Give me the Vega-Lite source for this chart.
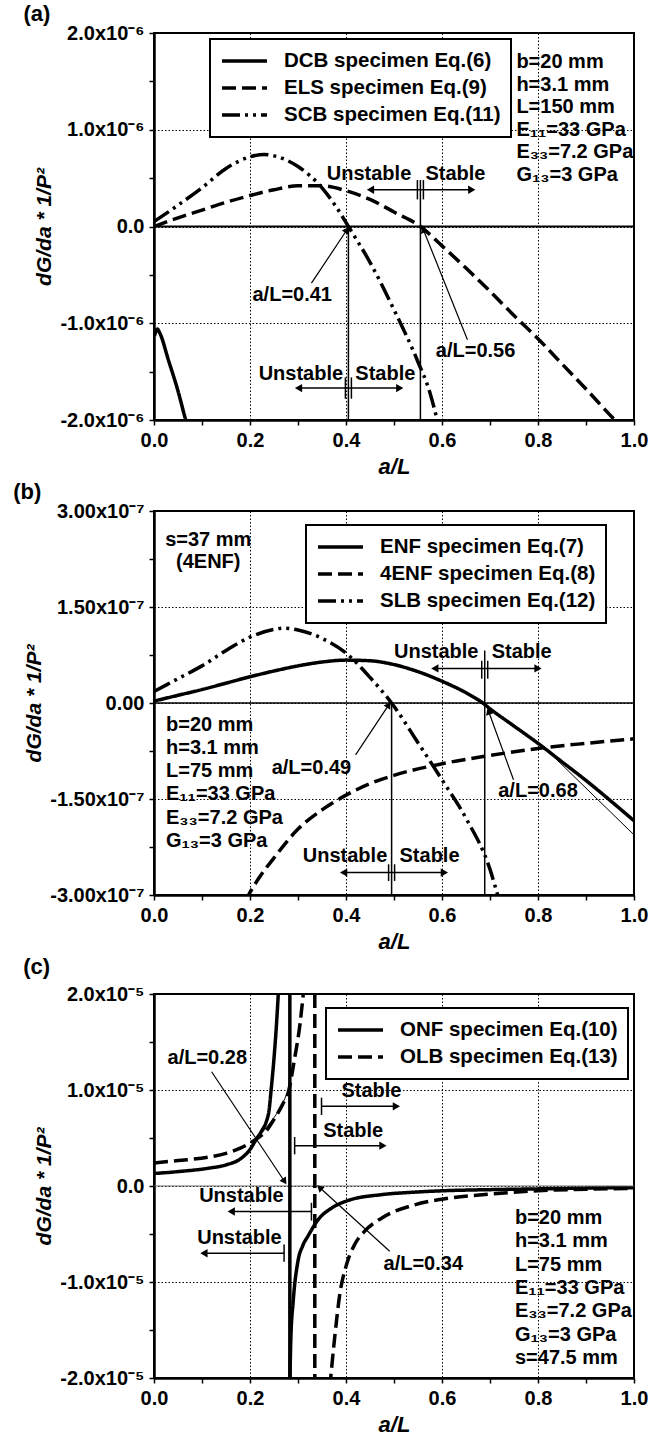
{
  "$schema": "https://vega.github.io/schema/vega-lite/v6.json",
  "background": "white",
  "padding": {"left": 12, "top": 2, "right": 0, "bottom": 0},
  "spacing": 2,
  "config": {
    "font": "Liberation Sans",
    "view": {"stroke": "black", "strokeWidth": 2},
    "axis": {"labelFont": "Liberation Sans", "labelFontSize": 20, "labelFontWeight": "bold", "labelColor": "black", "titleFont": "Liberation Sans", "titleFontSize": 21, "titleFontWeight": "bold", "titleColor": "black", "domainColor": "black", "domainWidth": 2.5, "tickColor": "black", "tickWidth": 1.5, "tickSize": 5, "gridColor": "black", "gridDash": [1.5, 2], "gridWidth": 1, "labelPadding": 5, "labelOverlap": false, "labelFlush": false},
    "axisX": {"titlePadding": 6},
    "axisY": {"titlePadding": 5.5},
    "legend": {"symbolType": "stroke", "symbolStrokeWidth": 3.5, "symbolStrokeColor": "black", "symbolSize": 2025, "clipHeight": 24, "labelFont": "Liberation Sans", "labelFontSize": 20.5, "labelFontWeight": "bold", "labelColor": "black", "labelOffset": 15, "labelLimit": 400, "rowPadding": 3, "padding": 10, "strokeColor": "black", "strokeWidth": 2, "fillColor": "white"},
    "title": {"anchor": "start", "frame": "bounds", "font": "Liberation Sans", "fontSize": 22, "fontWeight": "bold", "color": "black", "offset": 2, "dx": -10}
  },
  "resolve": {"scale": {"strokeDash": "independent", "shape": "independent"}, "legend": {"strokeDash": "independent"}},
  "datasets": {
    "a_curves": [
      {"series": "DCB specimen Eq.(6)", "x": 0.001, "y": -1.13e-6},
      {"series": "DCB specimen Eq.(6)", "x": 0.007, "y": -1.06e-6},
      {"series": "DCB specimen Eq.(6)", "x": 0.012, "y": -1.10e-6},
      {"series": "DCB specimen Eq.(6)", "x": 0.03, "y": -1.38e-6},
      {"series": "DCB specimen Eq.(6)", "x": 0.05, "y": -1.70e-6},
      {"series": "DCB specimen Eq.(6)", "x": 0.066, "y": -2.0e-6},
      {"series": "DCB specimen Eq.(6)", "x": 0.07, "y": -2.07e-6},
      {"series": "ELS specimen Eq.(9)", "x": 0, "y": 0},
      {"series": "ELS specimen Eq.(9)", "x": 0.05, "y": 9e-8},
      {"series": "ELS specimen Eq.(9)", "x": 0.1, "y": 1.7e-7},
      {"series": "ELS specimen Eq.(9)", "x": 0.15, "y": 2.5e-7},
      {"series": "ELS specimen Eq.(9)", "x": 0.2, "y": 3.2e-7},
      {"series": "ELS specimen Eq.(9)", "x": 0.25, "y": 3.8e-7},
      {"series": "ELS specimen Eq.(9)", "x": 0.3, "y": 4.2e-7},
      {"series": "ELS specimen Eq.(9)", "x": 0.35, "y": 4.2e-7},
      {"series": "ELS specimen Eq.(9)", "x": 0.4, "y": 3.7e-7},
      {"series": "ELS specimen Eq.(9)", "x": 0.45, "y": 2.8e-7},
      {"series": "ELS specimen Eq.(9)", "x": 0.5, "y": 1.5e-7},
      {"series": "ELS specimen Eq.(9)", "x": 0.555, "y": 0},
      {"series": "ELS specimen Eq.(9)", "x": 0.6, "y": -2.0e-7},
      {"series": "ELS specimen Eq.(9)", "x": 0.65, "y": -4.3e-7},
      {"series": "ELS specimen Eq.(9)", "x": 0.7, "y": -6.7e-7},
      {"series": "ELS specimen Eq.(9)", "x": 0.75, "y": -9.2e-7},
      {"series": "ELS specimen Eq.(9)", "x": 0.8, "y": -1.16e-6},
      {"series": "ELS specimen Eq.(9)", "x": 0.85, "y": -1.42e-6},
      {"series": "ELS specimen Eq.(9)", "x": 0.9, "y": -1.68e-6},
      {"series": "ELS specimen Eq.(9)", "x": 0.96, "y": -2.0e-6},
      {"series": "ELS specimen Eq.(9)", "x": 0.97, "y": -2.05e-6},
      {"series": "SCB specimen Eq.(11)", "x": 0, "y": 5e-8},
      {"series": "SCB specimen Eq.(11)", "x": 0.05, "y": 2.2e-7},
      {"series": "SCB specimen Eq.(11)", "x": 0.1, "y": 4.0e-7},
      {"series": "SCB specimen Eq.(11)", "x": 0.15, "y": 6.0e-7},
      {"series": "SCB specimen Eq.(11)", "x": 0.2, "y": 7.2e-7},
      {"series": "SCB specimen Eq.(11)", "x": 0.23, "y": 7.45e-7},
      {"series": "SCB specimen Eq.(11)", "x": 0.25, "y": 7.3e-7},
      {"series": "SCB specimen Eq.(11)", "x": 0.3, "y": 6.2e-7},
      {"series": "SCB specimen Eq.(11)", "x": 0.35, "y": 4.0e-7},
      {"series": "SCB specimen Eq.(11)", "x": 0.38, "y": 2.0e-7},
      {"series": "SCB specimen Eq.(11)", "x": 0.405, "y": 0},
      {"series": "SCB specimen Eq.(11)", "x": 0.45, "y": -3.7e-7},
      {"series": "SCB specimen Eq.(11)", "x": 0.5, "y": -8.6e-7},
      {"series": "SCB specimen Eq.(11)", "x": 0.55, "y": -1.40e-6},
      {"series": "SCB specimen Eq.(11)", "x": 0.575, "y": -1.72e-6},
      {"series": "SCB specimen Eq.(11)", "x": 0.59, "y": -2.0e-6},
      {"series": "SCB specimen Eq.(11)", "x": 0.595, "y": -2.1e-6}
    ],
    "a_marks": [
      {"kind": "zero", "x": 0, "x2": 1, "y": 0},
      {"kind": "vline", "x": 0.405, "y": 0, "y2": -2e-6},
      {"kind": "vline", "x": 0.555, "y": 4.8e-7, "y2": -2e-6},
      {"kind": "junction", "x": 0.555, "y": 2.8e-7, "y2": 4.8e-7},
      {"kind": "junction", "x": 0.405, "y": -1.56e-6, "y2": -1.78e-6},
      {"kind": "stability", "side": "Unstable", "x": 0.555, "x2": 0.451, "y": 3.8e-7},
      {"kind": "stability", "side": "Stable", "x": 0.555, "x2": 0.662, "y": 3.8e-7},
      {"kind": "stability", "side": "Unstable", "x": 0.405, "x2": 0.301, "y": -1.67e-6},
      {"kind": "stability", "side": "Stable", "x": 0.405, "x2": 0.512, "y": -1.67e-6},
      {"kind": "pointer", "label": "a/L=0.41", "x": 0.328, "y": -5.86e-7, "x2": 0.402, "y2": -3.4e-8},
      {"kind": "pointer", "label": "a/L=0.56", "x": 0.653, "y": -1.17e-6, "x2": 0.561, "y2": -3e-8}
    ],
    "a_text": [
      {"kind": "label", "x": 0.448, "y": 5.4e-7, "text": "Unstable"},
      {"kind": "label", "x": 0.628, "y": 5.4e-7, "text": "Stable"},
      {"kind": "label", "x": 0.306, "y": -1.52e-6, "text": "Unstable"},
      {"kind": "label", "x": 0.482, "y": -1.52e-6, "text": "Stable"},
      {"kind": "label", "x": 0.288, "y": -7.1e-7, "text": "a/L=0.41"},
      {"kind": "label", "x": 0.670, "y": -1.29e-6, "text": "a/L=0.56"},
      {"kind": "params", "x": 0.755, "y": 1.8e-6, "text": "b=20 mm\nh=3.1 mm\nL=150 mm\nE₁₁=33 GPa\nE₃₃=7.2 GPa\nG₁₃=3 GPa"}
    ],
    "b_curves": [
      {"series": "ENF specimen Eq.(7)", "x": 0, "y": 3e-9},
      {"series": "ENF specimen Eq.(7)", "x": 0.05, "y": 1.2e-8},
      {"series": "ENF specimen Eq.(7)", "x": 0.1, "y": 2.1e-8},
      {"series": "ENF specimen Eq.(7)", "x": 0.15, "y": 3.1e-8},
      {"series": "ENF specimen Eq.(7)", "x": 0.2, "y": 4.1e-8},
      {"series": "ENF specimen Eq.(7)", "x": 0.25, "y": 5.0e-8},
      {"series": "ENF specimen Eq.(7)", "x": 0.3, "y": 5.8e-8},
      {"series": "ENF specimen Eq.(7)", "x": 0.35, "y": 6.4e-8},
      {"series": "ENF specimen Eq.(7)", "x": 0.4, "y": 6.7e-8},
      {"series": "ENF specimen Eq.(7)", "x": 0.45, "y": 6.6e-8},
      {"series": "ENF specimen Eq.(7)", "x": 0.5, "y": 6.0e-8},
      {"series": "ENF specimen Eq.(7)", "x": 0.55, "y": 4.9e-8},
      {"series": "ENF specimen Eq.(7)", "x": 0.6, "y": 3.4e-8},
      {"series": "ENF specimen Eq.(7)", "x": 0.65, "y": 1.6e-8},
      {"series": "ENF specimen Eq.(7)", "x": 0.685, "y": 0},
      {"series": "ENF specimen Eq.(7)", "x": 0.7, "y": -9e-9},
      {"series": "ENF specimen Eq.(7)", "x": 0.75, "y": -3.6e-8},
      {"series": "ENF specimen Eq.(7)", "x": 0.8, "y": -6.3e-8},
      {"series": "ENF specimen Eq.(7)", "x": 0.85, "y": -9.2e-8},
      {"series": "ENF specimen Eq.(7)", "x": 0.9, "y": -1.21e-7},
      {"series": "ENF specimen Eq.(7)", "x": 0.95, "y": -1.52e-7},
      {"series": "ENF specimen Eq.(7)", "x": 1.0, "y": -1.84e-7},
      {"series": "4ENF specimen Eq.(8)", "x": 0.19, "y": -3.1e-7},
      {"series": "4ENF specimen Eq.(8)", "x": 0.197, "y": -3.0e-7},
      {"series": "4ENF specimen Eq.(8)", "x": 0.22, "y": -2.72e-7},
      {"series": "4ENF specimen Eq.(8)", "x": 0.25, "y": -2.42e-7},
      {"series": "4ENF specimen Eq.(8)", "x": 0.3, "y": -1.97e-7},
      {"series": "4ENF specimen Eq.(8)", "x": 0.35, "y": -1.67e-7},
      {"series": "4ENF specimen Eq.(8)", "x": 0.4, "y": -1.44e-7},
      {"series": "4ENF specimen Eq.(8)", "x": 0.45, "y": -1.26e-7},
      {"series": "4ENF specimen Eq.(8)", "x": 0.5, "y": -1.13e-7},
      {"series": "4ENF specimen Eq.(8)", "x": 0.6, "y": -9.5e-8},
      {"series": "4ENF specimen Eq.(8)", "x": 0.7, "y": -8.2e-8},
      {"series": "4ENF specimen Eq.(8)", "x": 0.8, "y": -7.1e-8},
      {"series": "4ENF specimen Eq.(8)", "x": 0.9, "y": -6.3e-8},
      {"series": "4ENF specimen Eq.(8)", "x": 1.0, "y": -5.6e-8},
      {"series": "SLB specimen Eq.(12)", "x": 0, "y": 1.8e-8},
      {"series": "SLB specimen Eq.(12)", "x": 0.05, "y": 3.8e-8},
      {"series": "SLB specimen Eq.(12)", "x": 0.1, "y": 5.8e-8},
      {"series": "SLB specimen Eq.(12)", "x": 0.15, "y": 8.2e-8},
      {"series": "SLB specimen Eq.(12)", "x": 0.2, "y": 1.03e-7},
      {"series": "SLB specimen Eq.(12)", "x": 0.25, "y": 1.15e-7},
      {"series": "SLB specimen Eq.(12)", "x": 0.27, "y": 1.17e-7},
      {"series": "SLB specimen Eq.(12)", "x": 0.3, "y": 1.14e-7},
      {"series": "SLB specimen Eq.(12)", "x": 0.35, "y": 1.01e-7},
      {"series": "SLB specimen Eq.(12)", "x": 0.4, "y": 7.8e-8},
      {"series": "SLB specimen Eq.(12)", "x": 0.45, "y": 4.0e-8},
      {"series": "SLB specimen Eq.(12)", "x": 0.495, "y": 0},
      {"series": "SLB specimen Eq.(12)", "x": 0.55, "y": -6.2e-8},
      {"series": "SLB specimen Eq.(12)", "x": 0.6, "y": -1.20e-7},
      {"series": "SLB specimen Eq.(12)", "x": 0.65, "y": -1.80e-7},
      {"series": "SLB specimen Eq.(12)", "x": 0.7, "y": -2.6e-7},
      {"series": "SLB specimen Eq.(12)", "x": 0.716, "y": -3.0e-7},
      {"series": "SLB specimen Eq.(12)", "x": 0.72, "y": -3.1e-7}
    ],
    "b_thin": [
      {"x": 0.82, "y": -7.46e-8},
      {"x": 1.0, "y": -2.06e-7}
    ],
    "b_marks": [
      {"kind": "zero", "x": 0, "x2": 1, "y": 0},
      {"kind": "vline", "x": 0.495, "y": 0, "y2": -3e-7},
      {"kind": "vline", "x": 0.689, "y": 8.2e-8, "y2": -3e-7},
      {"kind": "junction", "x": 0.689, "y": 3.8e-8, "y2": 6.6e-8},
      {"kind": "junction", "x": 0.495, "y": -2.52e-7, "y2": -2.78e-7},
      {"kind": "stability", "side": "Unstable", "x": 0.689, "x2": 0.585, "y": 5.4e-8},
      {"kind": "stability", "side": "Stable", "x": 0.689, "x2": 0.80, "y": 5.4e-8},
      {"kind": "stability", "side": "Unstable", "x": 0.495, "x2": 0.395, "y": -2.65e-7},
      {"kind": "stability", "side": "Stable", "x": 0.495, "x2": 0.605, "y": -2.65e-7},
      {"kind": "pointer", "label": "a/L=0.49", "x": 0.420, "y": -8.1e-8, "x2": 0.489, "y2": -3e-9},
      {"kind": "pointer", "label": "a/L=0.68", "x": 0.749, "y": -1.20e-7, "x2": 0.697, "y2": -1.3e-8}
    ],
    "b_text": [
      {"kind": "label", "x": 0.588, "y": 8.0e-8, "text": "Unstable"},
      {"kind": "label", "x": 0.766, "y": 8.0e-8, "text": "Stable"},
      {"kind": "label", "x": 0.398, "y": -2.39e-7, "text": "Unstable"},
      {"kind": "label", "x": 0.574, "y": -2.39e-7, "text": "Stable"},
      {"kind": "label", "x": 0.328, "y": -1.01e-7, "text": "a/L=0.49"},
      {"kind": "label", "x": 0.80, "y": -1.37e-7, "text": "a/L=0.68"},
      {"kind": "note", "x": 0.113, "y": 2.71e-7, "text": "s=37 mm\n(4ENF)"},
      {"kind": "params", "x": 0.025, "y": -1.8e-8, "text": "b=20 mm\nh=3.1 mm\nL=75 mm\nE₁₁=33 GPa\nE₃₃=7.2 GPa\nG₁₃=3 GPa"}
    ],
    "c_curves": [
      {"series": "ONF specimen Eq.(10)", "branch": "left", "x": 0, "y": 1.3e-6},
      {"series": "ONF specimen Eq.(10)", "branch": "left", "x": 0.05, "y": 1.5e-6},
      {"series": "ONF specimen Eq.(10)", "branch": "left", "x": 0.113, "y": 1.85e-6},
      {"series": "ONF specimen Eq.(10)", "branch": "left", "x": 0.15, "y": 2.2e-6},
      {"series": "ONF specimen Eq.(10)", "branch": "left", "x": 0.182, "y": 2.9e-6},
      {"series": "ONF specimen Eq.(10)", "branch": "left", "x": 0.2, "y": 3.8e-6},
      {"series": "ONF specimen Eq.(10)", "branch": "left", "x": 0.2135, "y": 4.9e-6},
      {"series": "ONF specimen Eq.(10)", "branch": "left", "x": 0.225, "y": 5.8e-6},
      {"series": "ONF specimen Eq.(10)", "branch": "left", "x": 0.234, "y": 6.7e-6},
      {"series": "ONF specimen Eq.(10)", "branch": "left", "x": 0.24, "y": 8.0e-6},
      {"series": "ONF specimen Eq.(10)", "branch": "left", "x": 0.244, "y": 1.0e-5},
      {"series": "ONF specimen Eq.(10)", "branch": "left", "x": 0.25, "y": 1.33e-5},
      {"series": "ONF specimen Eq.(10)", "branch": "left", "x": 0.255, "y": 1.67e-5},
      {"series": "ONF specimen Eq.(10)", "branch": "left", "x": 0.26, "y": 2.1e-5},
      {"series": "ONF specimen Eq.(10)", "branch": "right", "x": 0.283, "y": -2.1e-5},
      {"series": "ONF specimen Eq.(10)", "branch": "right", "x": 0.285, "y": -1.6e-5},
      {"series": "ONF specimen Eq.(10)", "branch": "right", "x": 0.29, "y": -1.2e-5},
      {"series": "ONF specimen Eq.(10)", "branch": "right", "x": 0.30, "y": -7.8e-6},
      {"series": "ONF specimen Eq.(10)", "branch": "right", "x": 0.31, "y": -6.2e-6},
      {"series": "ONF specimen Eq.(10)", "branch": "right", "x": 0.321, "y": -5.2e-6},
      {"series": "ONF specimen Eq.(10)", "branch": "right", "x": 0.342, "y": -3.5e-6},
      {"series": "ONF specimen Eq.(10)", "branch": "right", "x": 0.37, "y": -2.3e-6},
      {"series": "ONF specimen Eq.(10)", "branch": "right", "x": 0.405, "y": -1.5e-6},
      {"series": "ONF specimen Eq.(10)", "branch": "right", "x": 0.474, "y": -9e-7},
      {"series": "ONF specimen Eq.(10)", "branch": "right", "x": 0.543, "y": -6.4e-7},
      {"series": "ONF specimen Eq.(10)", "branch": "right", "x": 0.6, "y": -5e-7},
      {"series": "ONF specimen Eq.(10)", "branch": "right", "x": 0.7, "y": -3.8e-7},
      {"series": "ONF specimen Eq.(10)", "branch": "right", "x": 0.8, "y": -3e-7},
      {"series": "ONF specimen Eq.(10)", "branch": "right", "x": 0.9, "y": -2.2e-7},
      {"series": "ONF specimen Eq.(10)", "branch": "right", "x": 1.0, "y": -1.7e-7},
      {"series": "OLB specimen Eq.(13)", "branch": "left", "x": 0, "y": 2.4e-6},
      {"series": "OLB specimen Eq.(13)", "branch": "left", "x": 0.05, "y": 2.65e-6},
      {"series": "OLB specimen Eq.(13)", "branch": "left", "x": 0.113, "y": 3.0e-6},
      {"series": "OLB specimen Eq.(13)", "branch": "left", "x": 0.15, "y": 3.4e-6},
      {"series": "OLB specimen Eq.(13)", "branch": "left", "x": 0.182, "y": 4.0e-6},
      {"series": "OLB specimen Eq.(13)", "branch": "left", "x": 0.2135, "y": 4.9e-6},
      {"series": "OLB specimen Eq.(13)", "branch": "left", "x": 0.235, "y": 5.8e-6},
      {"series": "OLB specimen Eq.(13)", "branch": "left", "x": 0.252, "y": 7.1e-6},
      {"series": "OLB specimen Eq.(13)", "branch": "left", "x": 0.268, "y": 8.5e-6},
      {"series": "OLB specimen Eq.(13)", "branch": "left", "x": 0.28, "y": 9.8e-6},
      {"series": "OLB specimen Eq.(13)", "branch": "left", "x": 0.293, "y": 1.33e-5},
      {"series": "OLB specimen Eq.(13)", "branch": "left", "x": 0.304, "y": 1.68e-5},
      {"series": "OLB specimen Eq.(13)", "branch": "left", "x": 0.312, "y": 2.05e-5},
      {"series": "OLB specimen Eq.(13)", "branch": "right", "x": 0.366, "y": -2.1e-5},
      {"series": "OLB specimen Eq.(13)", "branch": "right", "x": 0.368, "y": -2.0e-5},
      {"series": "OLB specimen Eq.(13)", "branch": "right", "x": 0.377, "y": -1.55e-5},
      {"series": "OLB specimen Eq.(13)", "branch": "right", "x": 0.387, "y": -1.13e-5},
      {"series": "OLB specimen Eq.(13)", "branch": "right", "x": 0.401, "y": -8.2e-6},
      {"series": "OLB specimen Eq.(13)", "branch": "right", "x": 0.418, "y": -6.1e-6},
      {"series": "OLB specimen Eq.(13)", "branch": "right", "x": 0.439, "y": -4.7e-6},
      {"series": "OLB specimen Eq.(13)", "branch": "right", "x": 0.474, "y": -3.35e-6},
      {"series": "OLB specimen Eq.(13)", "branch": "right", "x": 0.543, "y": -1.96e-6},
      {"series": "OLB specimen Eq.(13)", "branch": "right", "x": 0.6, "y": -1.37e-6},
      {"series": "OLB specimen Eq.(13)", "branch": "right", "x": 0.7, "y": -8.5e-7},
      {"series": "OLB specimen Eq.(13)", "branch": "right", "x": 0.8, "y": -5e-7},
      {"series": "OLB specimen Eq.(13)", "branch": "right", "x": 0.9, "y": -3.3e-7},
      {"series": "OLB specimen Eq.(13)", "branch": "right", "x": 1.0, "y": -2.5e-7}
    ],
    "c_thin": [
      {"x": 0.2135, "y": 4.9e-6},
      {"x": 0.245, "y": 6.8e-6},
      {"x": 0.265, "y": 8.3e-6},
      {"x": 0.28, "y": 1.0e-5}
    ],
    "c_marks": [
      {"kind": "zero", "x": 0, "x2": 1, "y": 0},
      {"kind": "asymptote", "curve": "ONF", "x": 0.283, "y": 2e-5, "y2": -2e-5},
      {"kind": "asymptote", "curve": "OLB", "x": 0.335, "y": 2e-5, "y2": -2e-5},
      {"kind": "bar", "x": 0.349, "y": 7.4e-6, "y2": 9.2e-6},
      {"kind": "bar", "x": 0.293, "y": 3.3e-6, "y2": 5.1e-6},
      {"kind": "bar", "x": 0.328, "y": -1.75e-6, "y2": -3.6e-6},
      {"kind": "bar", "x": 0.271, "y": -6.1e-6, "y2": -7.9e-6},
      {"kind": "stability", "side": "Stable", "x": 0.349, "x2": 0.505, "y": 8.3e-6},
      {"kind": "stability", "side": "Stable", "x": 0.293, "x2": 0.477, "y": 4.2e-6},
      {"kind": "stability", "side": "Unstable", "x": 0.328, "x2": 0.161, "y": -2.66e-6},
      {"kind": "stability", "side": "Unstable", "x": 0.271, "x2": 0.104, "y": -7.0e-6},
      {"kind": "pointer", "label": "a/L=0.28", "x": 0.12, "y": 1.19e-5, "x2": 0.272, "y2": 4.7e-7},
      {"kind": "pointer", "label": "a/L=0.34", "x": 0.491, "y": -6.8e-6, "x2": 0.345, "y2": -1.6e-7}
    ],
    "c_text": [
      {"kind": "label", "x": 0.453, "y": 9.9e-6, "text": "Stable"},
      {"kind": "label", "x": 0.415, "y": 5.75e-6, "text": "Stable"},
      {"kind": "label", "x": 0.182, "y": -9.9e-7, "text": "Unstable"},
      {"kind": "label", "x": 0.178, "y": -5.4e-6, "text": "Unstable"},
      {"kind": "label", "x": 0.111, "y": 1.33e-5, "text": "a/L=0.28"},
      {"kind": "label", "x": 0.561, "y": -8.1e-6, "text": "a/L=0.34"},
      {"kind": "params", "x": 0.752, "y": -2.31e-6, "text": "b=20 mm\nh=3.1 mm\nL=75 mm\nE₁₁=33 GPa\nE₃₃=7.2 GPa\nG₁₃=3 GPa\ns=47.5 mm"}
    ]
  },
  "vconcat": [
    {
      "width": 480, "height": 387,
      "title": {"text": "(a)", "offset": -3},
      "layer": [
        {
          "data": {"name": "a_curves"},
          "mark": {"type": "line", "color": "black", "strokeWidth": 3.5, "clip": true, "interpolate": "monotone"},
          "encoding": {
            "x": {"field": "x", "type": "quantitative", "scale": {"domain": [0, 1], "nice": false, "zero": false},
              "axis": {"title": "a/L", "titleFontStyle": "italic", "titleFontSize": 22, "values": [0, 0.1, 0.2, 0.3, 0.4, 0.5, 0.6, 0.7, 0.8, 0.9, 1],
                "labelExpr": "round(datum.value*10) % 2 == 0 ? format(datum.value, '.1f') : ''",
                "grid": true, "gridOpacity": {"condition": {"test": "round(datum.value*10) % 2 == 0 && datum.value > 0.05 && datum.value < 0.95", "value": 1}, "value": 0}}},
            "y": {"field": "y", "type": "quantitative", "scale": {"domain": [-2e-6, 2e-6], "nice": false, "zero": false},
              "axis": {"title": "dG/da * 1/P²", "titleFontStyle": "italic", "values": [-2e-6, -1.5e-6, -1e-6, -5e-7, 0, 5e-7, 1e-6, 1.5e-6, 2e-6],
                "labelExpr": "abs(datum.value) < 1e-12 ? '0.0' : (abs(datum.value*1e6 - round(datum.value*1e6)) < 0.01 ? (datum.value < 0 ? '-' : '') + format(abs(datum.value*1e6), '.1f') + 'x10⁻⁶' : '')",
                "grid": true, "gridOpacity": {"condition": {"test": "abs(datum.value*1e6 - round(datum.value*1e6)) < 0.01", "value": 1}, "value": 0}}},
            "strokeDash": {"field": "series", "type": "nominal", "sort": null,
              "scale": {"domain": ["DCB specimen Eq.(6)", "ELS specimen Eq.(9)", "SCB specimen Eq.(11)"], "range": [[1, 0], [14, 6], [18, 5, 3, 5, 3, 5]]},
              "legend": {"title": null, "orient": "none", "legendX": 56, "legendY": 6}}
          }
        },
        {
          "data": {"name": "a_marks"}, "transform": [{"filter": "datum.kind == 'zero'"}],
          "mark": {"type": "rule", "color": "black", "strokeWidth": 2},
          "encoding": {"x": {"field": "x", "type": "quantitative"}, "x2": {"field": "x2"}, "y": {"field": "y", "type": "quantitative"}}
        },
        {
          "data": {"name": "a_marks"}, "transform": [{"filter": "datum.kind == 'vline'"}],
          "mark": {"type": "rule", "color": "black", "strokeWidth": 1.5},
          "encoding": {"x": {"field": "x", "type": "quantitative"}, "y": {"field": "y", "type": "quantitative"}, "y2": {"field": "y2"}}
        },
        {
          "data": {"name": "a_marks"}, "transform": [{"filter": "datum.kind == 'junction'"}],
          "mark": {"type": "rule", "color": "black", "strokeWidth": 1.5, "xOffset": -3},
          "encoding": {"x": {"field": "x", "type": "quantitative"}, "y": {"field": "y", "type": "quantitative"}, "y2": {"field": "y2"}}
        },
        {
          "data": {"name": "a_marks"}, "transform": [{"filter": "datum.kind == 'junction'"}],
          "mark": {"type": "rule", "color": "black", "strokeWidth": 1.5, "xOffset": 3},
          "encoding": {"x": {"field": "x", "type": "quantitative"}, "y": {"field": "y", "type": "quantitative"}, "y2": {"field": "y2"}}
        },
        {
          "data": {"name": "a_marks"}, "transform": [{"filter": "datum.kind == 'stability'"}],
          "mark": {"type": "rule", "color": "black", "strokeWidth": 1.5},
          "encoding": {"x": {"field": "x", "type": "quantitative"}, "x2": {"field": "x2"}, "y": {"field": "y", "type": "quantitative"}}
        },
        {
          "data": {"name": "a_marks"}, "transform": [{"filter": "datum.kind == 'stability'"}],
          "mark": {"type": "point", "filled": true, "opacity": 1, "color": "black", "size": 70},
          "encoding": {"x": {"field": "x2", "type": "quantitative"}, "y": {"field": "y", "type": "quantitative"},
            "shape": {"field": "side", "type": "nominal", "scale": {"domain": ["Unstable", "Stable"], "range": ["triangle-left", "triangle-right"]}, "legend": null}}
        },
        {
          "data": {"name": "a_marks"}, "transform": [{"filter": "datum.kind == 'pointer'"}],
          "mark": {"type": "rule", "color": "black", "strokeWidth": 1.2},
          "encoding": {"x": {"field": "x", "type": "quantitative"}, "x2": {"field": "x2"}, "y": {"field": "y", "type": "quantitative"}, "y2": {"field": "y2"}}
        },
        {
          "data": {"name": "a_marks"}, "transform": [{"filter": "datum.label == 'a/L=0.41'"}],
          "mark": {"type": "point", "shape": "triangle-up", "filled": true, "opacity": 1, "color": "black", "size": 60, "angle": 34},
          "encoding": {"x": {"field": "x2", "type": "quantitative"}, "y": {"field": "y2", "type": "quantitative"}}
        },
        {
          "data": {"name": "a_marks"}, "transform": [{"filter": "datum.label == 'a/L=0.56'"}],
          "mark": {"type": "point", "shape": "triangle-up", "filled": true, "opacity": 1, "color": "black", "size": 60, "angle": 338},
          "encoding": {"x": {"field": "x2", "type": "quantitative"}, "y": {"field": "y2", "type": "quantitative"}}
        },
        {
          "data": {"name": "a_text"}, "transform": [{"filter": "datum.kind == 'label'"}],
          "mark": {"type": "text", "font": "Liberation Sans", "fontSize": 20, "fontWeight": "bold", "color": "black", "align": "center", "baseline": "middle"},
          "encoding": {"x": {"field": "x", "type": "quantitative"}, "y": {"field": "y", "type": "quantitative"}, "text": {"field": "text"}}
        },
        {
          "data": {"name": "a_text"}, "transform": [{"filter": "datum.kind == 'params'"}],
          "mark": {"type": "text", "font": "Liberation Sans", "fontSize": 20, "fontWeight": "bold", "color": "black", "align": "left", "baseline": "top", "lineBreak": "\n", "lineHeight": 22.5},
          "encoding": {"x": {"field": "x", "type": "quantitative"}, "y": {"field": "y", "type": "quantitative"}, "text": {"field": "text"}}
        }
      ]
    },
    {
      "width": 480, "height": 384,
      "title": {"text": "(b)", "offset": -3},
      "layer": [
        {
          "data": {"name": "b_curves"},
          "mark": {"type": "line", "color": "black", "strokeWidth": 3.5, "clip": true, "interpolate": "monotone"},
          "encoding": {
            "x": {"field": "x", "type": "quantitative", "scale": {"domain": [0, 1], "nice": false, "zero": false},
              "axis": {"title": "a/L", "titleFontStyle": "italic", "titleFontSize": 22, "values": [0, 0.1, 0.2, 0.3, 0.4, 0.5, 0.6, 0.7, 0.8, 0.9, 1],
                "labelExpr": "round(datum.value*10) % 2 == 0 ? format(datum.value, '.1f') : ''",
                "grid": true, "gridOpacity": {"condition": {"test": "round(datum.value*10) % 2 == 0 && datum.value > 0.05 && datum.value < 0.95", "value": 1}, "value": 0}}},
            "y": {"field": "y", "type": "quantitative", "scale": {"domain": [-3e-7, 3e-7], "nice": false, "zero": false},
              "axis": {"title": "dG/da * 1/P²", "titleFontStyle": "italic", "values": [-3e-7, -2.25e-7, -1.5e-7, -7.5e-8, 0, 7.5e-8, 1.5e-7, 2.25e-7, 3e-7],
                "labelExpr": "abs(datum.value) < 1e-13 ? '0.00' : (abs(datum.value*1e7/1.5 - round(datum.value*1e7/1.5)) < 0.01 ? (datum.value < 0 ? '-' : '') + format(abs(datum.value*1e7), '.2f') + 'x10⁻⁷' : '')",
                "grid": true, "gridOpacity": {"condition": {"test": "abs(datum.value*1e7/1.5 - round(datum.value*1e7/1.5)) < 0.01", "value": 1}, "value": 0}}},
            "strokeDash": {"field": "series", "type": "nominal", "sort": null,
              "scale": {"domain": ["ENF specimen Eq.(7)", "4ENF specimen Eq.(8)", "SLB specimen Eq.(12)"], "range": [[1, 0], [14, 6], [18, 5, 3, 5, 3, 5]]},
              "legend": {"title": null, "orient": "none", "legendX": 152, "legendY": 14}}
          }
        },
        {
          "data": {"name": "b_thin"},
          "mark": {"type": "line", "color": "black", "strokeWidth": 1, "clip": true},
          "encoding": {"x": {"field": "x", "type": "quantitative"}, "y": {"field": "y", "type": "quantitative"}}
        },
        {
          "data": {"name": "b_marks"}, "transform": [{"filter": "datum.kind == 'zero'"}],
          "mark": {"type": "rule", "color": "black", "strokeWidth": 1.5},
          "encoding": {"x": {"field": "x", "type": "quantitative"}, "x2": {"field": "x2"}, "y": {"field": "y", "type": "quantitative"}}
        },
        {
          "data": {"name": "b_marks"}, "transform": [{"filter": "datum.kind == 'vline'"}],
          "mark": {"type": "rule", "color": "black", "strokeWidth": 1.5},
          "encoding": {"x": {"field": "x", "type": "quantitative"}, "y": {"field": "y", "type": "quantitative"}, "y2": {"field": "y2"}}
        },
        {
          "data": {"name": "b_marks"}, "transform": [{"filter": "datum.kind == 'junction'"}],
          "mark": {"type": "rule", "color": "black", "strokeWidth": 1.5, "xOffset": -3},
          "encoding": {"x": {"field": "x", "type": "quantitative"}, "y": {"field": "y", "type": "quantitative"}, "y2": {"field": "y2"}}
        },
        {
          "data": {"name": "b_marks"}, "transform": [{"filter": "datum.kind == 'junction'"}],
          "mark": {"type": "rule", "color": "black", "strokeWidth": 1.5, "xOffset": 3},
          "encoding": {"x": {"field": "x", "type": "quantitative"}, "y": {"field": "y", "type": "quantitative"}, "y2": {"field": "y2"}}
        },
        {
          "data": {"name": "b_marks"}, "transform": [{"filter": "datum.kind == 'stability'"}],
          "mark": {"type": "rule", "color": "black", "strokeWidth": 1.5},
          "encoding": {"x": {"field": "x", "type": "quantitative"}, "x2": {"field": "x2"}, "y": {"field": "y", "type": "quantitative"}}
        },
        {
          "data": {"name": "b_marks"}, "transform": [{"filter": "datum.kind == 'stability'"}],
          "mark": {"type": "point", "filled": true, "opacity": 1, "color": "black", "size": 70},
          "encoding": {"x": {"field": "x2", "type": "quantitative"}, "y": {"field": "y", "type": "quantitative"},
            "shape": {"field": "side", "type": "nominal", "scale": {"domain": ["Unstable", "Stable"], "range": ["triangle-left", "triangle-right"]}, "legend": null}}
        },
        {
          "data": {"name": "b_marks"}, "transform": [{"filter": "datum.kind == 'pointer'"}],
          "mark": {"type": "rule", "color": "black", "strokeWidth": 1.2},
          "encoding": {"x": {"field": "x", "type": "quantitative"}, "x2": {"field": "x2"}, "y": {"field": "y", "type": "quantitative"}, "y2": {"field": "y2"}}
        },
        {
          "data": {"name": "b_marks"}, "transform": [{"filter": "datum.label == 'a/L=0.49'"}],
          "mark": {"type": "point", "shape": "triangle-up", "filled": true, "opacity": 1, "color": "black", "size": 60, "angle": 34},
          "encoding": {"x": {"field": "x2", "type": "quantitative"}, "y": {"field": "y2", "type": "quantitative"}}
        },
        {
          "data": {"name": "b_marks"}, "transform": [{"filter": "datum.label == 'a/L=0.68'"}],
          "mark": {"type": "point", "shape": "triangle-up", "filled": true, "opacity": 1, "color": "black", "size": 60, "angle": 340},
          "encoding": {"x": {"field": "x2", "type": "quantitative"}, "y": {"field": "y2", "type": "quantitative"}}
        },
        {
          "data": {"name": "b_text"}, "transform": [{"filter": "datum.kind == 'label'"}],
          "mark": {"type": "text", "font": "Liberation Sans", "fontSize": 20, "fontWeight": "bold", "color": "black", "align": "center", "baseline": "middle"},
          "encoding": {"x": {"field": "x", "type": "quantitative"}, "y": {"field": "y", "type": "quantitative"}, "text": {"field": "text"}}
        },
        {
          "data": {"name": "b_text"}, "transform": [{"filter": "datum.kind == 'note'"}],
          "mark": {"type": "text", "font": "Liberation Sans", "fontSize": 20, "fontWeight": "bold", "color": "black", "align": "center", "baseline": "top", "lineBreak": "\n", "lineHeight": 22},
          "encoding": {"x": {"field": "x", "type": "quantitative"}, "y": {"field": "y", "type": "quantitative"}, "text": {"field": "text"}}
        },
        {
          "data": {"name": "b_text"}, "transform": [{"filter": "datum.kind == 'params'"}],
          "mark": {"type": "text", "font": "Liberation Sans", "fontSize": 20, "fontWeight": "bold", "color": "black", "align": "left", "baseline": "top", "lineBreak": "\n", "lineHeight": 23.3},
          "encoding": {"x": {"field": "x", "type": "quantitative"}, "y": {"field": "y", "type": "quantitative"}, "text": {"field": "text"}}
        }
      ]
    },
    {
      "width": 480, "height": 384,
      "title": {"text": "(c)", "offset": 5},
      "layer": [
        {
          "data": {"name": "c_curves"},
          "mark": {"type": "line", "color": "black", "strokeWidth": 3.5, "clip": true, "interpolate": "monotone"},
          "encoding": {
            "x": {"field": "x", "type": "quantitative", "scale": {"domain": [0, 1], "nice": false, "zero": false},
              "axis": {"title": "a/L", "titleFontStyle": "italic", "titleFontSize": 22, "values": [0, 0.1, 0.2, 0.3, 0.4, 0.5, 0.6, 0.7, 0.8, 0.9, 1],
                "labelExpr": "round(datum.value*10) % 2 == 0 ? format(datum.value, '.1f') : ''",
                "grid": true, "gridOpacity": {"condition": {"test": "round(datum.value*10) % 2 == 0 && datum.value > 0.05 && datum.value < 0.95", "value": 1}, "value": 0}}},
            "y": {"field": "y", "type": "quantitative", "scale": {"domain": [-2e-5, 2e-5], "nice": false, "zero": false},
              "axis": {"title": "dG/da * 1/P²", "titleFontStyle": "italic", "values": [-2e-5, -1.5e-5, -1e-5, -5e-6, 0, 5e-6, 1e-5, 1.5e-5, 2e-5],
                "labelExpr": "abs(datum.value) < 1e-11 ? '0.0' : (abs(datum.value*1e5 - round(datum.value*1e5)) < 0.01 ? (datum.value < 0 ? '-' : '') + format(abs(datum.value*1e5), '.1f') + 'x10⁻⁵' : '')",
                "grid": true, "gridOpacity": {"condition": {"test": "abs(datum.value*1e5 - round(datum.value*1e5)) < 0.01", "value": 1}, "value": 0}}},
            "strokeDash": {"field": "series", "type": "nominal", "sort": null,
              "scale": {"domain": ["ONF specimen Eq.(10)", "OLB specimen Eq.(13)"], "range": [[1, 0], [14, 6]]},
              "legend": {"title": null, "orient": "none", "legendX": 172, "legendY": 14}},
            "detail": {"field": "branch"}
          }
        },
        {
          "data": {"name": "c_thin"},
          "mark": {"type": "line", "color": "black", "strokeWidth": 1, "clip": true, "interpolate": "monotone"},
          "encoding": {"x": {"field": "x", "type": "quantitative"}, "y": {"field": "y", "type": "quantitative"}}
        },
        {
          "data": {"name": "c_marks"}, "transform": [{"filter": "datum.kind == 'zero'"}],
          "mark": {"type": "rule", "color": "#666666", "strokeWidth": 1},
          "encoding": {"x": {"field": "x", "type": "quantitative"}, "x2": {"field": "x2"}, "y": {"field": "y", "type": "quantitative"}}
        },
        {
          "data": {"name": "c_marks"}, "transform": [{"filter": "datum.kind == 'asymptote' && datum.curve == 'ONF'"}],
          "mark": {"type": "rule", "color": "black", "strokeWidth": 3.5},
          "encoding": {"x": {"field": "x", "type": "quantitative"}, "y": {"field": "y", "type": "quantitative"}, "y2": {"field": "y2"}}
        },
        {
          "data": {"name": "c_marks"}, "transform": [{"filter": "datum.kind == 'asymptote' && datum.curve == 'OLB'"}],
          "mark": {"type": "rule", "color": "black", "strokeWidth": 3.5, "strokeDash": [14, 6]},
          "encoding": {"x": {"field": "x", "type": "quantitative"}, "y": {"field": "y", "type": "quantitative"}, "y2": {"field": "y2"}}
        },
        {
          "data": {"name": "c_marks"}, "transform": [{"filter": "datum.kind == 'bar'"}],
          "mark": {"type": "rule", "color": "black", "strokeWidth": 1.5},
          "encoding": {"x": {"field": "x", "type": "quantitative"}, "y": {"field": "y", "type": "quantitative"}, "y2": {"field": "y2"}}
        },
        {
          "data": {"name": "c_marks"}, "transform": [{"filter": "datum.kind == 'stability'"}],
          "mark": {"type": "rule", "color": "black", "strokeWidth": 1.5},
          "encoding": {"x": {"field": "x", "type": "quantitative"}, "x2": {"field": "x2"}, "y": {"field": "y", "type": "quantitative"}}
        },
        {
          "data": {"name": "c_marks"}, "transform": [{"filter": "datum.kind == 'stability'"}],
          "mark": {"type": "point", "filled": true, "opacity": 1, "color": "black", "size": 70},
          "encoding": {"x": {"field": "x2", "type": "quantitative"}, "y": {"field": "y", "type": "quantitative"},
            "shape": {"field": "side", "type": "nominal", "scale": {"domain": ["Unstable", "Stable"], "range": ["triangle-left", "triangle-right"]}, "legend": null}}
        },
        {
          "data": {"name": "c_marks"}, "transform": [{"filter": "datum.kind == 'pointer'"}],
          "mark": {"type": "rule", "color": "black", "strokeWidth": 1.2},
          "encoding": {"x": {"field": "x", "type": "quantitative"}, "x2": {"field": "x2"}, "y": {"field": "y", "type": "quantitative"}, "y2": {"field": "y2"}}
        },
        {
          "data": {"name": "c_marks"}, "transform": [{"filter": "datum.label == 'a/L=0.28'"}],
          "mark": {"type": "point", "shape": "triangle-up", "filled": true, "opacity": 1, "color": "black", "size": 60, "angle": 146},
          "encoding": {"x": {"field": "x2", "type": "quantitative"}, "y": {"field": "y2", "type": "quantitative"}}
        },
        {
          "data": {"name": "c_marks"}, "transform": [{"filter": "datum.label == 'a/L=0.34'"}],
          "mark": {"type": "point", "shape": "triangle-up", "filled": true, "opacity": 1, "color": "black", "size": 60, "angle": 312},
          "encoding": {"x": {"field": "x2", "type": "quantitative"}, "y": {"field": "y2", "type": "quantitative"}}
        },
        {
          "data": {"name": "c_text"}, "transform": [{"filter": "datum.kind == 'label'"}],
          "mark": {"type": "text", "font": "Liberation Sans", "fontSize": 20, "fontWeight": "bold", "color": "black", "align": "center", "baseline": "middle"},
          "encoding": {"x": {"field": "x", "type": "quantitative"}, "y": {"field": "y", "type": "quantitative"}, "text": {"field": "text"}}
        },
        {
          "data": {"name": "c_text"}, "transform": [{"filter": "datum.kind == 'params'"}],
          "mark": {"type": "text", "font": "Liberation Sans", "fontSize": 20, "fontWeight": "bold", "color": "black", "align": "left", "baseline": "top", "lineBreak": "\n", "lineHeight": 23.3},
          "encoding": {"x": {"field": "x", "type": "quantitative"}, "y": {"field": "y", "type": "quantitative"}, "text": {"field": "text"}}
        }
      ]
    }
  ]
}
